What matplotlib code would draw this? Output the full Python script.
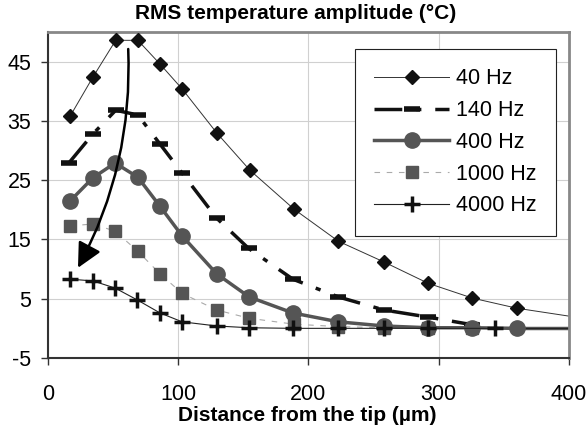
import matplotlib
matplotlib.use("Agg")
import matplotlib.pyplot as plt
from matplotlib.patches import FancyArrowPatch

plt.rcParams['font.family'] = ['Liberation Sans', 'DejaVu Sans']
plt.rcParams['axes.unicode_minus'] = False

# distance from tip (um) and RMS amplitude (degC)
x40 = [17, 34.5, 52, 69, 86, 103, 129.5, 155, 189, 223, 258, 292, 326, 360]
y40 = [35.8, 42.4, 48.6, 48.6, 44.6, 40.4, 33.0, 26.7, 20.1, 14.7, 11.2, 7.6, 5.1, 3.4]
tail40 = [(360, 3.4), (405, 1.9)]

x140 = [16, 34.5, 52, 69, 86, 103, 129.5, 154, 188, 223, 258, 292, 326]
y140 = [27.9, 32.8, 36.8, 36.0, 31.1, 26.2, 18.6, 13.5, 8.3, 5.3, 3.1, 1.9, 0.6]

x400 = [17, 34.5, 51.5, 69, 86, 103, 129.5, 154.5, 188, 223, 258, 292, 326, 360]
y400 = [21.5, 25.4, 27.9, 25.5, 20.6, 15.6, 9.2, 5.3, 2.6, 1.1, 0.4, 0.1, 0.1, 0.0]
tail400 = [(360, 0.0), (405, 0.0)]

x1000 = [17, 34.5, 51.5, 69, 86, 103, 129.5, 154.5, 189, 223, 258, 292, 326]
y1000 = [17.3, 17.6, 16.4, 13.0, 9.2, 5.9, 3.1, 1.7, 0.7, 0.3, 0.1, 0.05, 0.0]

x4000 = [17, 34.5, 51.5, 68.5, 86, 103, 129.5, 154.5, 188, 223, 258, 292, 343]
y4000 = [8.3, 8.0, 6.8, 4.8, 2.6, 1.1, 0.4, 0.1, 0.0, 0.0, 0.0, 0.0, 0.0]
tail4000 = [(343, 0.0), (405, 0.0)]

xticks = [0, 100, 200, 300, 400]
yticks = [-5, 5, 15, 25, 35, 45]

fig = plt.figure(figsize=(5.87, 4.28), dpi=100)
ax = fig.add_axes([0.0818, 0.1636, 0.8872, 0.7616])

ax.set_xlim(0, 400)
ax.set_ylim(-5, 50)
ax.set_xticks(xticks)
ax.set_yticks(yticks)
ax.grid(True, color='#d0d0d0', linewidth=0.8)
ax.set_axisbelow(True)

ax.plot(*zip(*tail40), color='#333333', lw=0.7)
ax.plot(*zip(*tail400), color='#555555', lw=2.5)
ax.plot(*zip(*tail4000), color='#222222', lw=0.8)

ax.plot(x1000, y1000, color='#aaaaaa', lw=0.8, ls=(0, (5, 6)),
        marker='s', ms=8, mfc='#555555', mec='#555555', label='1000 Hz', zorder=3)
ax.plot(x40, y40, color='#333333', lw=0.7,
        marker='D', ms=7, mfc='#111111', mec='#111111', label='40 Hz', zorder=4)
ax.plot(x140, y140, color='#111111', lw=2.5, ls=(0, (8, 4, 1.5, 4)),
        marker='_', ms=12, mew=4, mec='#111111', label='140 Hz', zorder=4)
ax.plot(x400, y400, color='#555555', lw=2.5,
        marker='o', ms=11, mfc='#555555', mec='#555555', label='400 Hz', zorder=5)
ax.plot(x4000, y4000, color='#222222', lw=0.8,
        marker='+', ms=11, mew=2.5, mec='#111111', label='4000 Hz', zorder=6)

arrow = FancyArrowPatch((61.5, 47.6), (22, 9.8), connectionstyle='arc3,rad=-0.14',
                        arrowstyle='-|>,head_length=10,head_width=5',
                        color='black', lw=1.8, mutation_scale=1.5, zorder=7)
ax.add_patch(arrow)

handles, labels = ax.get_legend_handles_labels()
order = ['40 Hz', '140 Hz', '400 Hz', '1000 Hz', '4000 Hz']
hmap = dict(zip(labels, handles))
leg = ax.legend([hmap[k] for k in order], order, loc='upper right',
                bbox_to_anchor=(0.975, 0.948), borderaxespad=0, fontsize=15.5,
                handlelength=3.5, labelspacing=0.5, fancybox=False,
                edgecolor='#222222', framealpha=1, borderpad=0.9, handletextpad=0.3)
leg.get_frame().set_linewidth(0.8)

for s in ['left', 'bottom']:
    ax.spines[s].set_color('#333333')
    ax.spines[s].set_linewidth(1.5)
for s in ['top', 'right']:
    ax.spines[s].set_color('#888888')
    ax.spines[s].set_linewidth(2)

ax.tick_params(axis='both', labelsize=15.5, length=5, width=1, color='#333333')
ax.tick_params(axis='x', pad=14)
ax.tick_params(axis='y', pad=7)

fig.text(0.503, 0.968, 'RMS temperature amplitude (°C)', ha='center', va='center',
         fontsize=15, fontweight='bold')
fig.text(0.523, 0.03, 'Distance from the tip (µm)', ha='center', va='center',
         fontsize=15, fontweight='bold')

fig.savefig('out.png', dpi=100)
